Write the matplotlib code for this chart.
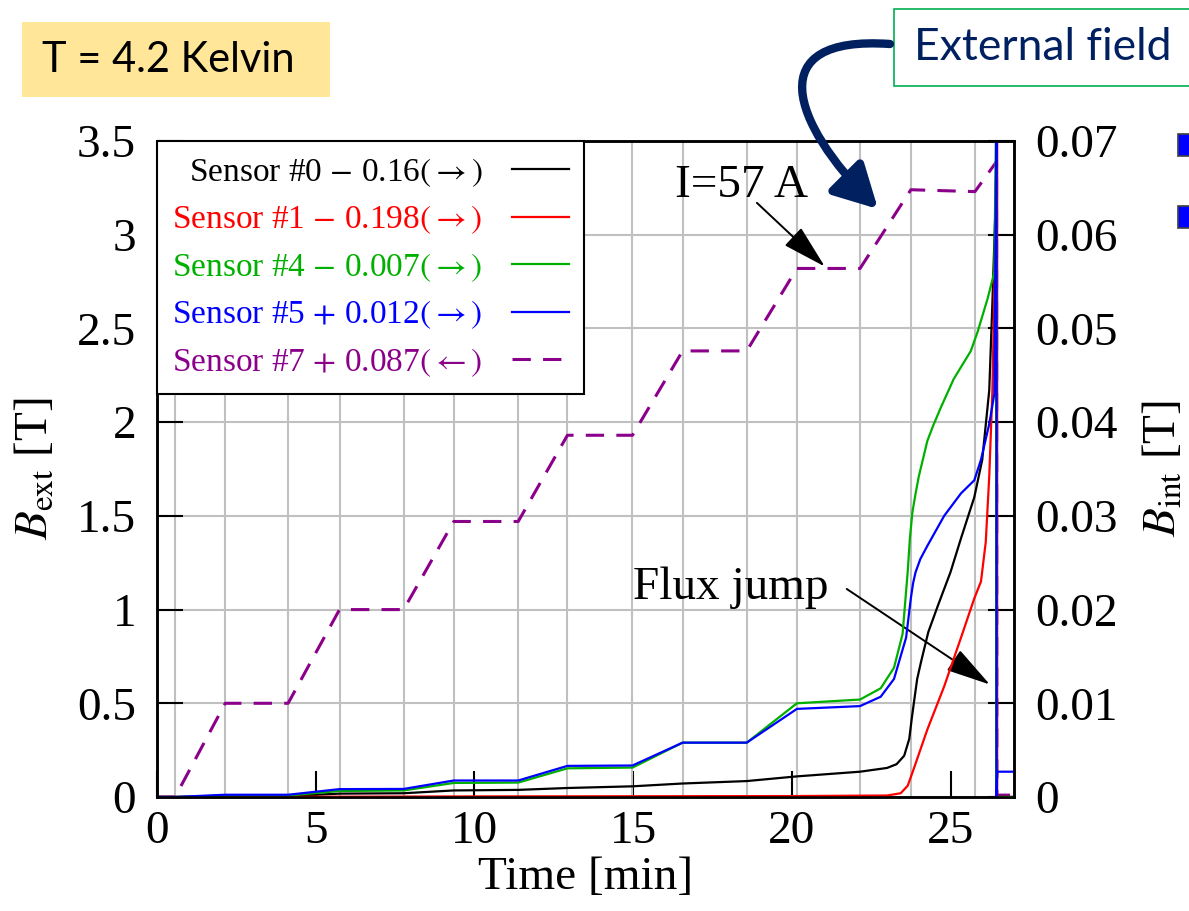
import matplotlib
matplotlib.use("Agg")
import matplotlib.pyplot as plt
from matplotlib.patches import Rectangle, FancyArrowPatch
from matplotlib.path import Path
from matplotlib.ticker import FuncFormatter

plt.rcParams["font.family"] = ["Liberation Serif", "DejaVu Serif"]
plt.rcParams["mathtext.fontset"] = "stix"

W, H = 1189, 911

# applied field B_ext [T] (left axis): ramp/plateau corners of the current steps
FIELD_T = [0.0, 0.57, 2.15, 4.13, 5.75, 7.77, 9.35, 11.38, 12.93, 14.98, 16.56,
           18.58, 20.16, 22.15, 23.75, 25.77, 26.45, 26.46, 27.0]
FIELD_B = [0.0, 0.0, 0.50, 0.50, 1.00, 1.00, 1.47, 1.47, 1.93, 1.93, 2.38,
           2.38, 2.82, 2.82, 3.24, 3.23, 3.39, 0.01, 0.01]

# internal field B_int [T] (right axis), one trace per Hall sensor
S0_T = [0.0, 0.57, 2.15, 4.13, 5.75, 7.77, 9.35, 11.38, 12.93, 14.98, 16.56,
        18.58, 20.16, 22.15, 23.0, 23.3, 23.54, 23.7, 23.78, 23.86, 23.95,
        24.07, 24.3, 24.6, 25.0, 25.33, 25.75, 26.0, 26.22, 26.32, 26.43, 26.45,
        26.45, 27.0]
S0_B = [0.0, 0.0, 0.00006, 0.0001, 0.00036, 0.0004, 0.0007, 0.00076, 0.00096,
        0.00114, 0.00144, 0.0017, 0.0022, 0.0027, 0.0031, 0.0035, 0.0044,
        0.0062, 0.0084, 0.0104, 0.0126, 0.0144, 0.0176, 0.0204, 0.024, 0.0276,
        0.032, 0.036, 0.0434, 0.0528, 0.0644, 0.074, 0.0, 0.0]

S1_T = [0.0, 10.0, 20.0, 23.0, 23.43, 23.65, 23.8, 24.27, 24.8, 25.33, 25.75,
        25.96, 26.11, 26.22, 26.32, 26.40, 26.47, 26.47, 27.0]
S1_B = [0.0, 0.00006, 0.0001, 0.00016, 0.0004, 0.0012, 0.0026, 0.0072, 0.0118,
        0.017, 0.0212, 0.023, 0.0272, 0.0342, 0.0434, 0.0574, 0.074, 0.0, 0.0]

S4_T = [0.0, 0.57, 2.15, 4.13, 5.75, 7.77, 9.35, 11.38, 12.93, 14.98, 16.56,
        18.58, 20.16, 22.15, 22.8, 23.22, 23.49, 23.65, 23.72, 23.8, 23.9, 24.0,
        24.1, 24.27, 24.45, 24.7, 25.1, 25.64, 25.85, 26.17, 26.38, 26.44, 26.44,
        27.0]
S4_B = [0.0, 0.0, 0.00016, 0.00016, 0.00064, 0.0007, 0.0015, 0.00154, 0.00306,
        0.00314, 0.0058, 0.0058, 0.0100, 0.0104, 0.0116, 0.0138, 0.0174, 0.024,
        0.0276, 0.0304, 0.0324, 0.0342, 0.0356, 0.038, 0.0396, 0.0416, 0.0446,
        0.0476, 0.0496, 0.0532, 0.056, 0.074, 0.0, 0.0]

S5_T = [0.0, 0.57, 2.15, 4.13, 5.75, 7.77, 9.35, 11.38, 12.93, 14.98, 16.56,
        18.58, 20.16, 22.15, 22.8, 23.22, 23.6, 23.75, 23.82, 23.9, 24.05, 24.27,
        24.8, 25.33, 25.75, 25.96, 26.22, 26.38, 26.45, 26.45, 26.47, 27.0]
S5_B = [0.0, 0.0, 0.00024, 0.00024, 0.00084, 0.00086, 0.00176, 0.00176, 0.00332,
        0.00336, 0.0058, 0.0058, 0.0094, 0.0097, 0.0107, 0.0126, 0.017, 0.0212,
        0.0228, 0.024, 0.0254, 0.0268, 0.030, 0.0324, 0.0338, 0.036, 0.0398,
        0.043, 0.074, 0.0, 0.0027, 0.0027]

LABELS = [r"Sensor #0 $-$ 0.16$(\rightarrow)$",
          r"Sensor #1 $-$ 0.198$(\rightarrow)$",
          r"Sensor #4 $-$ 0.007$(\rightarrow)$",
          r"Sensor #5 $+$ 0.012$(\rightarrow)$",
          r"Sensor #7 $+$ 0.087$(\leftarrow)$"]
COLORS = ["black", "#ff0000", "#00b000", "#0000ff", "#8b008b"]

X_TICKS = [0, 5, 10, 15, 20, 25]
Y_TICKS = [0, 0.5, 1, 1.5, 2, 2.5, 3, 3.5]
Y2_TICKS = [0, 0.01, 0.02, 0.03, 0.04, 0.05, 0.06, 0.07]


def fpx(x, y):
    """pixel position (from top-left) -> figure fraction"""
    return x / W, 1 - y / H


fig = plt.figure(figsize=(W / 100, H / 100), dpi=100)
ax = fig.add_axes([157 / W, 114 / H, 857 / W, 656 / H])
ax2 = ax.twinx()

fmt = FuncFormatter(lambda v, _: f"{v:g}")

# grid: vertical lines at each ramp corner, horizontal at the field ticks
ax.set_xticks(FIELD_T[1:16], minor=True)
ax.grid(which="minor", axis="x", color="#c0c0c0", lw=1.5)
ax.grid(which="major", axis="y", color="#c0c0c0", lw=1.5)
ax.set_axisbelow(True)

purple, = ax.plot(FIELD_T, FIELD_B, color=COLORS[4], lw=2.2, dashes=(6, 4),
                  label=LABELS[4])
lines = []
for t, b, c, lab in zip([S0_T, S1_T, S4_T, S5_T], [S0_B, S1_B, S4_B, S5_B],
                        COLORS[:4], LABELS[:4]):
    ln, = ax2.plot(t, b, color=c, lw=1.6, label=lab)
    lines.append(ln)

ax.set_xlim(0, 27)
ax.set_ylim(0, 3.5)
ax2.set_ylim(0, 0.07)
ax.set_xticks(X_TICKS)
ax.set_yticks(Y_TICKS)
ax2.set_yticks(Y2_TICKS)
ax.xaxis.set_major_formatter(fmt)
ax.yaxis.set_major_formatter(fmt)
ax2.yaxis.set_major_formatter(fmt)

ax.tick_params(which="major", direction="in", length=19, width=1.5,
               labelsize=34, pad=15, top=False, right=False)
ax.tick_params(axis="x", which="major", pad=10)
ax.tick_params(which="minor", length=0)
ax2.tick_params(direction="in", length=19, width=1.5, labelsize=34, pad=15)
for a in (ax, ax2):
    for s in a.spines.values():
        s.set_linewidth(1.8)

ax.set_xlabel("Time [min]", fontsize=34, labelpad=2)
ax.set_ylabel(r"$B_{\mathrm{ext}}$ [T]", fontsize=34, labelpad=14)
ax2.set_ylabel(r"$B_{\mathrm{int}}$ [T]", fontsize=34, labelpad=18)

leg = ax2.legend(lines + [purple], LABELS, loc="upper left",
                 bbox_to_anchor=(0, 1), borderaxespad=0, fontsize=24,
                 markerfirst=False, labelcolor="linecolor", fancybox=False,
                 framealpha=1, edgecolor="black", handlelength=1.7,
                 handletextpad=0.9, borderpad=0.45, labelspacing=0.45)
leg.get_frame().set_linewidth(1.5)
leg.set_zorder(10)

# annotations
ax.text(16.31, 3.20, "I=57 A", fontsize=34, ha="left", va="baseline")
ax.annotate("", xy=(21.04, 2.83), xytext=(18.9, 3.17),
            arrowprops=dict(arrowstyle="-|>,head_length=1.4,head_width=0.38",
                            color="black", lw=1.4, mutation_scale=20,
                            shrinkA=0, shrinkB=0))
ax.text(14.99, 1.057, "Flux jump", fontsize=34, ha="left", va="baseline")
ax.annotate("", xy=(26.24, 0.60), xytext=(21.73, 1.11),
            arrowprops=dict(arrowstyle="-|>,head_length=1.4,head_width=0.38",
                            color="black", lw=1.4, mutation_scale=20,
                            shrinkA=0, shrinkB=0))

# slide overlays: temperature tag, external-field callout and its arrow
x0, y0 = fpx(22, 97)
x1, y1 = fpx(330, 22)
fig.add_artist(Rectangle((x0, y0), x1 - x0, y1 - y0, transform=fig.transFigure,
                         facecolor="#ffe699", edgecolor="none"))
fig.text(*fpx(42, 60), "T = 4.2 Kelvin", fontsize=30, family="Lato",
         ha="left", va="center")

x0, y0 = fpx(894, 86)
x1, y1 = fpx(1200, 9)
fig.add_artist(Rectangle((x0, y0), x1 - x0, y1 - y0, transform=fig.transFigure,
                         facecolor="white", edgecolor="#00b050", lw=1.2))
fig.text(*fpx(914, 48), "External field", fontsize=32, family="Lato",
         color="#002060", ha="left", va="center")

verts = [fpx(890, 44), fpx(760, 35), fpx(792, 123), fpx(878, 209)]
codes = [Path.MOVETO, Path.CURVE4, Path.CURVE4, Path.CURVE4]
fig.add_artist(FancyArrowPatch(path=Path(verts, codes),
                               arrowstyle="-|>,head_length=1.3,head_width=0.7",
                               mutation_scale=20, lw=6, color="#002060",
                               transform=fig.transFigure))

for ytop in (134, 206):
    x0, y0 = fpx(1178, ytop + 22)
    x1, y1 = fpx(1200, ytop)
    fig.add_artist(Rectangle((x0, y0), x1 - x0, y1 - y0,
                             transform=fig.transFigure, facecolor="#0000ff",
                             edgecolor="#404040", lw=1.2))

fig.savefig("out.png", dpi=100)
